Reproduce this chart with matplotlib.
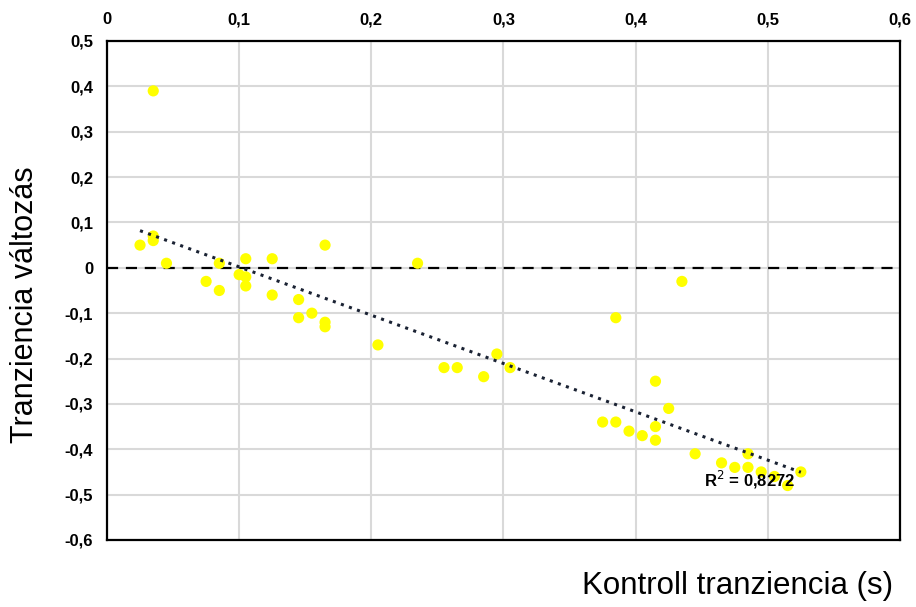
import numpy as np
import matplotlib
matplotlib.use("Agg")
import matplotlib.pyplot as plt
from matplotlib import font_manager

# Control transience (s) and change in transience
kontroll = [0.025, 0.035, 0.035, 0.035, 0.045, 0.075, 0.085, 0.085, 0.100, 0.105,
            0.105, 0.105, 0.125, 0.125, 0.145, 0.145, 0.155, 0.165, 0.165, 0.165,
            0.205, 0.235, 0.255, 0.265, 0.285, 0.295, 0.305, 0.375, 0.385, 0.385,
            0.395, 0.405, 0.415, 0.415, 0.415, 0.425, 0.435, 0.445, 0.465, 0.475,
            0.485, 0.485, 0.495, 0.505, 0.515, 0.525]
valtozas = [0.05, 0.39, 0.07, 0.06, 0.01, -0.03, 0.01, -0.05, -0.015, 0.02,
            -0.02, -0.04, 0.02, -0.06, -0.07, -0.11, -0.10, 0.05, -0.12, -0.13,
            -0.17, 0.01, -0.22, -0.22, -0.24, -0.19, -0.22, -0.34, -0.11, -0.34,
            -0.36, -0.37, -0.25, -0.35, -0.38, -0.31, -0.03, -0.41, -0.43, -0.44,
            -0.41, -0.44, -0.45, -0.46, -0.48, -0.45]

x_ticks = [0, 0.1, 0.2, 0.3, 0.4, 0.5, 0.6]
y_ticks = [0.5, 0.4, 0.3, 0.2, 0.1, 0, -0.1, -0.2, -0.3, -0.4, -0.5, -0.6]
r2_label = "R$^2$ = 0,8272"

installed = {f.name for f in font_manager.fontManager.ttflist}
tick_family = ["Liberation Sans Narrow"] if "Liberation Sans Narrow" in installed else ["Liberation Sans"]


def fmt(v):
    return ("%g" % v).replace(".", ",")


fig = plt.figure(figsize=(9.16, 6.07), dpi=100)
ax = fig.add_axes([0.1168, 0.1104, 0.8657, 0.8221])

ax.set_xlim(0, 0.6)
ax.set_ylim(-0.6, 0.5)
ax.set_xticks(x_ticks)
ax.set_yticks(y_ticks)
ax.set_xticklabels([fmt(v) for v in x_ticks], fontfamily=tick_family,
                   fontweight="bold", fontsize=12)
ax.set_yticklabels([fmt(v) for v in y_ticks], fontfamily=tick_family,
                   fontweight="bold", fontsize=12)
ax.xaxis.tick_top()
ax.tick_params(axis="both", length=0)
ax.tick_params(axis="y", pad=10)
ax.tick_params(axis="x", pad=10)

ax.grid(True, color="#d9d9d9", linewidth=1.5)
ax.set_axisbelow(True)
for sp in ax.spines.values():
    sp.set_color("black")
    sp.set_linewidth(1.6)

# zero reference line
ax.axhline(0, color="black", linewidth=1.6, linestyle=(0, (5, 3.5)), zorder=2)

# data points
ax.scatter(kontroll, valtozas, s=65, color="#ffff00", edgecolors="none", zorder=3)

# linear trend line over the data range
xa = np.array(kontroll)
ya = np.array(valtozas)
slope, intercept = np.polyfit(xa, ya, 1)
xs = np.array([xa.min(), xa.max()])
ax.plot(xs, slope * xs + intercept, color="#1a2233", linewidth=2.2,
        linestyle=(0, (1, 1.8)), zorder=4)

ax.text(0.4515, -0.467, r2_label, fontfamily=tick_family, fontweight="bold",
        fontsize=12, ha="left", va="center", zorder=5)

fig.text(0.027, 0.4975, "Tranziencia változás", rotation=90, ha="center",
         va="center", fontfamily="Liberation Sans", fontsize=22)
fig.text(0.975, 0.0346, "Kontroll tranziencia (s)", ha="right", va="center",
         fontfamily="Liberation Sans", fontsize=22.5)

fig.savefig("out.png", dpi=100)
